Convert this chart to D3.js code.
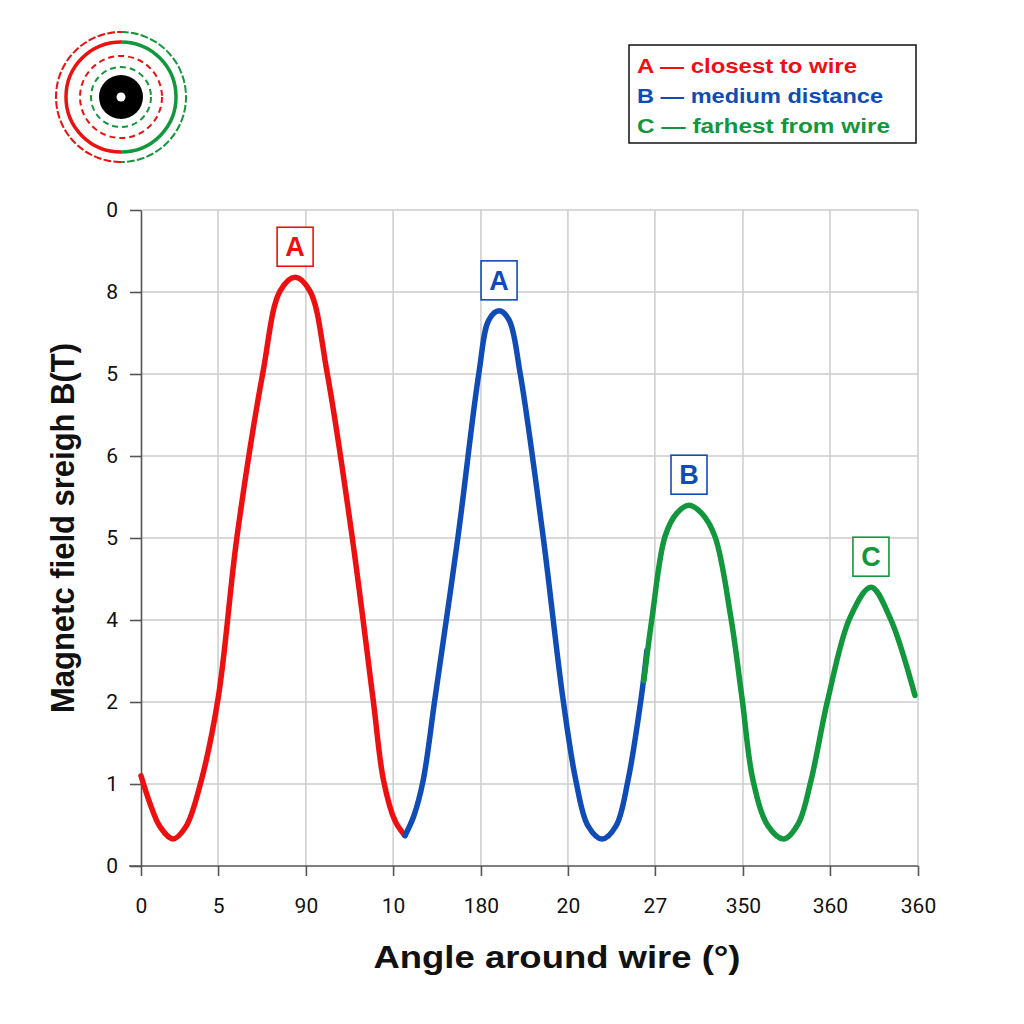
<!DOCTYPE html>
<html>
<head>
<meta charset="utf-8">
<script src="https://cdn.jsdelivr.net/npm/d3@7"></script>
<style>
  body { margin: 0; background: #fff; }
  svg { display: block; }
</style>
</head>
<body>
<div id="chart"></div>
<script>
// Field strength around the wire
// angles in degrees, values on the plot's own 0..8 grid

let redAngles  = [0, 4.2, 8.8, 14.8, 20.8, 27.3, 35.7, 44.5, 56.5, 64.4, 71.4, 78.3, 86.2, 97.8, 107.5, 112.4, 117.7, 122.3];
let redValues  = [1.10, 0.76, 0.48, 0.33, 0.48, 0.98, 2.04, 4.02, 6.02, 7.01, 7.18, 7.01, 6.02, 4.02, 2.04, 1.04, 0.55, 0.37];

let blueAngles = [122.3, 126.4, 130.7, 136.2, 146.9, 156.6, 161.2, 165.9, 170.5, 175.6, 186.3, 195.5, 201.5, 207.1, 213.6, 220.1, 225.6, 231.7, 234.4];
let blueValues = [0.37, 0.61, 1.04, 2.04, 4.02, 6.02, 6.66, 6.77, 6.66, 6.02, 4.02, 2.04, 1.04, 0.49, 0.33, 0.49, 1.04, 2.04, 2.63];

let greenAngles = [233.0, 236.8, 242.8, 248.2, 253.9, 259.8, 265.9, 273.3, 278.5, 283.6, 290.5, 297.9, 304.6, 310.4, 318.3, 328.5, 338.2, 347.0, 358.6];
let greenValues = [2.26, 3.03, 4.02, 4.30, 4.40, 4.30, 4.02, 3.03, 2.04, 1.04, 0.49, 0.33, 0.52, 1.04, 2.04, 3.03, 3.40, 3.03, 2.08];

// tick positions (degrees) and the labels printed under them
let xTickAngles = [0, 35.7, 76.4, 116.8, 157.5, 197.8, 238.1, 278.9, 319.2, 360];
let xTickLabels = ["0", "5", "90", "10", "180", "20", "27", "350", "360", "360"];
let yTickValues = [0, 1, 2, 3, 4, 5, 6, 7, 8];
let yTickLabels = ["0", "1", "2", "4", "5", "6", "5", "8", "0"];

// letter boxes over the peaks
let peakLetters = ["A", "A", "B", "C"];
let peakAngles  = [71.4, 165.9, 253.9, 338.2];
let peakValues  = [7.18, 6.77, 4.40, 3.40];
let peakColors  = ["red", "blue", "blue", "green"];

let legendTexts  = ["A \u2014 closest to wire", "B \u2014 medium distance", "C \u2014 farhest from wire"];
let legendColors = ["red", "blue", "green"];
let legendWidths = [220, 246, 253];

let colors = { red: "#ee1010", blue: "#0f4cb6", green: "#12973c" };

////////////////////////////////////////////////////////////////////////

let width = 1024, height = 1024;
let margin = { left: 141, right: 106, top: 210, bottom: 158 };

let xScale = d3.scaleLinear().domain([0, 360]).range([margin.left, width - margin.right]);
let yScale = d3.scaleLinear().domain([0, 8]).range([height - margin.bottom, margin.top]);

let svg = d3.select("#chart").append("svg")
  .attr("width", width)
  .attr("height", height)
  .style("font-family", "'Liberation Sans', Arial, sans-serif");

// grid
svg.append("g").selectAll("line")
  .data(xTickAngles.slice(1))
  .enter().append("line")
  .attr("x1", d => xScale(d)).attr("x2", d => xScale(d))
  .attr("y1", yScale(0)).attr("y2", yScale(8))
  .attr("stroke", "#cdcdcd").attr("stroke-width", 1.5);

svg.append("g").selectAll("line")
  .data(yTickValues.slice(1))
  .enter().append("line")
  .attr("x1", xScale(0)).attr("x2", xScale(360))
  .attr("y1", d => yScale(d)).attr("y2", d => yScale(d))
  .attr("stroke", "#cdcdcd").attr("stroke-width", 1.5);

// axes
let xAxis = d3.axisBottom(xScale)
  .tickValues(xTickAngles)
  .tickFormat((d, i) => xTickLabels[i])
  .tickSizeInner(10).tickSizeOuter(0).tickPadding(22);

let yAxis = d3.axisLeft(yScale)
  .tickValues(yTickValues)
  .tickFormat((d, i) => yTickLabels[i])
  .tickSizeInner(11).tickSizeOuter(0).tickPadding(12);

let gx = svg.append("g")
  .attr("transform", "translate(0," + yScale(0) + ")")
  .call(xAxis);
let gy = svg.append("g")
  .attr("transform", "translate(" + xScale(0) + ",0)")
  .call(yAxis);

[gx, gy].forEach(function(g) {
  g.select(".domain").attr("stroke", "#555").attr("stroke-width", 1.6);
  g.selectAll(".tick line").attr("stroke", "#555").attr("stroke-width", 1.6);
  g.selectAll(".tick text")
    .attr("fill", "#111")
    .style("font-size", "21px")
    .style("font-family", "Roboto, 'Liberation Sans', sans-serif");
});
// bottom axis line runs a bit past the y axis
gx.select(".domain").attr("d", "M" + (xScale(0) - 12) + ",0H" + xScale(360));

// curves
let line = d3.line()
  .x(d => xScale(d[0]))
  .y(d => yScale(d[1]))
  .curve(d3.curveCatmullRom.alpha(0.5));

let series = [
  { color: colors.red,   pts: d3.zip(redAngles, redValues) },
  { color: colors.blue,  pts: d3.zip(blueAngles, blueValues) },
  { color: colors.green, pts: d3.zip(greenAngles, greenValues) }
];

svg.append("g").selectAll("path")
  .data(series)
  .enter().append("path")
  .attr("d", d => line(d.pts))
  .attr("fill", "none")
  .attr("stroke", d => d.color)
  .attr("stroke-width", 5.5)
  .attr("stroke-linecap", "round");

// peak letter boxes
let boxes = svg.append("g").selectAll("g")
  .data(d3.range(peakLetters.length))
  .enter().append("g")
  .attr("transform", i => "translate(" + xScale(peakAngles[i]) + "," + (yScale(peakValues[i]) - 11) + ")");

boxes.append("rect")
  .attr("x", -18).attr("y", -39)
  .attr("width", 36).attr("height", 39)
  .attr("fill", "#fff")
  .attr("stroke", i => colors[peakColors[i]])
  .attr("stroke-width", 1.6);

boxes.append("text")
  .attr("y", -10)
  .attr("text-anchor", "middle")
  .attr("fill", i => colors[peakColors[i]])
  .style("font-size", "27px")
  .style("font-weight", "bold")
  .text(i => peakLetters[i]);

// legend
let legend = svg.append("g").attr("transform", "translate(629,45)");
legend.append("rect")
  .attr("width", 287).attr("height", 98)
  .attr("fill", "#fff")
  .attr("stroke", "#111").attr("stroke-width", 1.5);
legend.selectAll("text")
  .data(legendTexts)
  .enter().append("text")
  .attr("x", 8)
  .attr("y", (d, i) => 28 + i * 30)
  .attr("textLength", (d, i) => legendWidths[i])
  .attr("lengthAdjust", "spacingAndGlyphs")
  .attr("fill", (d, i) => colors[legendColors[i]])
  .style("font-size", "21px")
  .style("font-weight", "bold")
  .text(d => d);

// wire icon, top left
let icon = svg.append("g").attr("transform", "translate(121,97)");
let arcL = d3.arc().startAngle(Math.PI).endAngle(2 * Math.PI);
let arcR = d3.arc().startAngle(0).endAngle(Math.PI);

function ring(r, arc, color, dashed, w) {
  icon.append("path")
    .attr("d", arc.innerRadius(r).outerRadius(r)())
    .attr("fill", "none")
    .attr("stroke", color)
    .attr("stroke-width", w)
    .attr("stroke-dasharray", dashed ? "6,4" : null);
}
ring(65, arcL, colors.red, true, 2);
ring(65, arcR, colors.green, true, 2);
ring(55, arcL, colors.red, false, 3.5);
ring(55, arcR, colors.green, false, 3.5);
icon.append("circle").attr("r", 41).attr("fill", "none")
  .attr("stroke", colors.red).attr("stroke-width", 2).attr("stroke-dasharray", "6,4");
icon.append("circle").attr("r", 30).attr("fill", "none")
  .attr("stroke", colors.green).attr("stroke-width", 2).attr("stroke-dasharray", "6,4");
icon.append("circle").attr("r", 22).attr("fill", "#000");
icon.append("circle").attr("r", 4.5).attr("fill", "#fff");

// axis titles
svg.append("text")
  .attr("x", 557).attr("y", 968)
  .attr("text-anchor", "middle")
  .attr("textLength", 367)
  .attr("lengthAdjust", "spacingAndGlyphs")
  .attr("fill", "#111")
  .style("font-size", "32px")
  .style("font-weight", "bold")
  .text("Angle around wire (\u00b0)");

svg.append("text")
  .attr("transform", "translate(74,528) rotate(-90)")
  .attr("text-anchor", "middle")
  .attr("textLength", 370)
  .attr("lengthAdjust", "spacingAndGlyphs")
  .attr("fill", "#111")
  .style("font-size", "33px")
  .style("font-weight", "bold")
  .text("Magnetc field sreigh B(T)");
</script>
</body>
</html>
